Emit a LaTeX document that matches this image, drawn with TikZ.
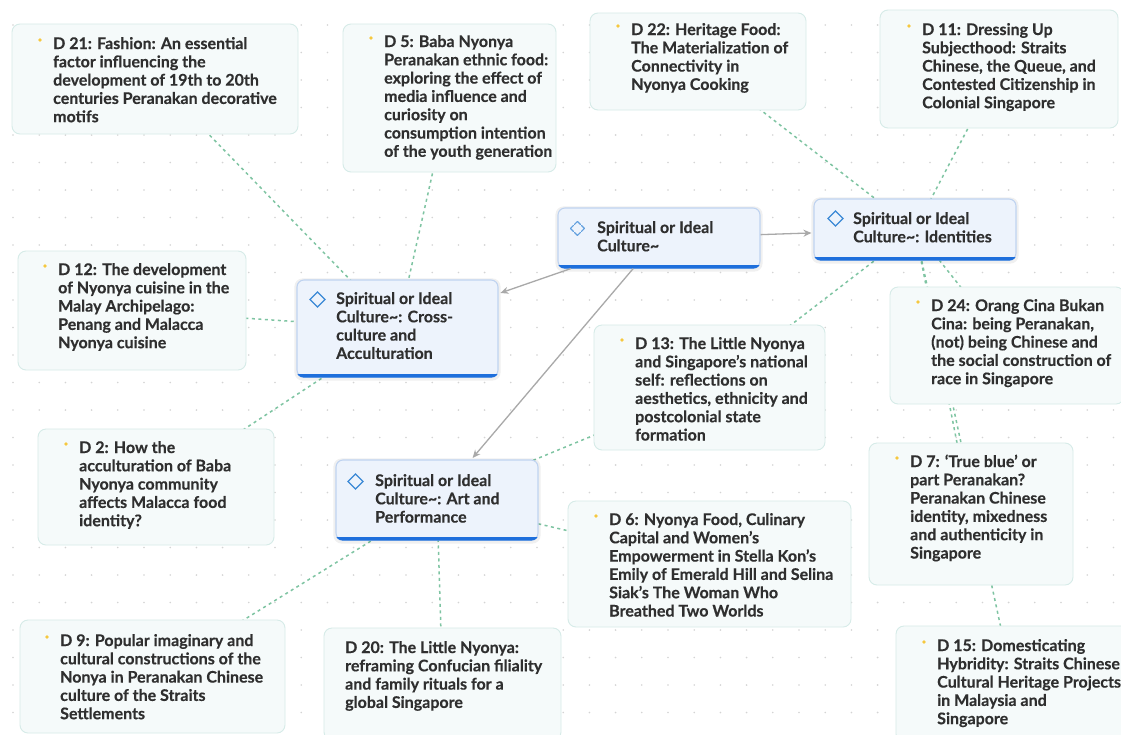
\documentclass[tikz,border=0pt]{standalone}
\usepackage{fontspec}
\setmainfont{Lato}[BoldFeatures={FakeBold=0.35}]
\usetikzlibrary{arrows.meta,backgrounds}

\definecolor{txt}{HTML}{2F2F2F}
\definecolor{docfill}{HTML}{F5FAFA}
\definecolor{docline}{HTML}{D6EBE8}
\definecolor{catfill}{HTML}{EDF3FC}
\definecolor{catline}{HTML}{BFD3F0}
\definecolor{catbar}{HTML}{1E6FDC}
\definecolor{linkc}{HTML}{7EC4A2}
\definecolor{arrowc}{HTML}{A9A9A9}
\definecolor{dotc}{HTML}{D4D4D4}
\definecolor{bulletc}{HTML}{F6C83E}
\definecolor{iconc}{HTML}{3B88D6}

\tikzset{
  docbox/.style={draw=docline, fill=docfill, line width=0.9pt, rounded corners=8pt, inner sep=0pt},
  catbox/.style={draw=catline, fill=catfill, line width=1.1pt, rounded corners=7pt, inner sep=0pt},
  doctext/.style={anchor=base west, align=left, inner sep=0pt, text=txt,
    font=\fontsize{16}{18.3}\selectfont\bfseries},
  linkline/.style={draw=linkc, line width=1.5pt, dash pattern=on 3pt off 3.5pt},
  parentarrow/.style={draw=arrowc, line width=1.3pt, shorten >=2pt, -{Stealth[length=8pt,width=7pt]}},
  bulletdot/.style={fill=bulletc},
  catshadow/.style={fill=black, opacity=0.06, rounded corners=8pt},
  diamondicon/.pic={\draw[iconc, line width=1.2pt] (-7.5,0) -- (0,-7.5) -- (7.5,0) -- (0,7.5) -- cycle;},
  rooticon/.pic={\draw[iconc!80, line width=1.1pt, line cap=round, line join=round]
      (-3,-4) -- (0,-7) -- (3,-4)
      (-4,-3) -- (-7,0) -- (-4,3)
      (4,-3) -- (7,0) -- (4,3)
      (-3,4) -- (0,7) -- (3,4);},
}

\begin{document}
\begin{tikzpicture}[x=1pt, y=-1pt]
\useasboundingbox (0,0) rectangle (1121,734);

% ---------- category nodes ----------
\node[catbox, minimum width=202, minimum height=60] (root) at (659,238) {};
\node[catbox, minimum width=202, minimum height=61] (ident) at (915,229.5) {};
\node[catbox, minimum width=201, minimum height=97] (cross) at (397.5,328.5) {};
\node[catbox, minimum width=202, minimum height=80] (art) at (437,500) {};

\foreach \n in {root,ident,cross,art}{
  \begin{scope}
    \clip[rounded corners=7pt] (\n.south west) rectangle (\n.north east);
    \fill[catbar] ([yshift=-1pt]\n.south west) rectangle ([yshift=4pt]\n.south east);
  \end{scope}
}

\pic at ([shift={(20,21)}]root.north west) {rooticon};
\pic at ([shift={(22,20)}]ident.north west) {diamondicon};
\pic at ([shift={(21,20)}]cross.north west) {diamondicon};
\pic at ([shift={(20,22)}]art.north west) {diamondicon};

% text nodes: anchor = baseline of the LAST line
\node[doctext] (roott) at (597,251.3) {Spiritual or Ideal\\Culture\textasciitilde};
\node[doctext] (identt) at (853,242.3) {Spiritual or Ideal\\Culture\textasciitilde: Identities};
\node[doctext] (crosst) at (336,358.9) {Spiritual or Ideal\\Culture\textasciitilde: Cross-\\culture and\\Acculturation};
\node[doctext] (artt) at (375,522.6) {Spiritual or Ideal\\Culture\textasciitilde: Art and\\Performance};

% ---------- document nodes ----------
\node[docbox, minimum width=286, minimum height=110] (d21) at (155,79) {};
\node[docbox, minimum width=213, minimum height=148] (d5) at (449.5,98) {};
\node[docbox, minimum width=216, minimum height=97] (d22) at (698,61.5) {};
\node[docbox, minimum width=238, minimum height=118] (d11) at (999,69) {};
\node[docbox, minimum width=228, minimum height=119] (d12) at (132,310.5) {};
\node[docbox, minimum width=236, minimum height=116] (d2) at (156,487) {};
\node[docbox, minimum width=231, minimum height=125] (d13) at (709.5,387.5) {};
\node[docbox, minimum width=234, minimum height=117] (d24) at (1007,345.5) {};
\node[docbox, minimum width=204, minimum height=142] (d7) at (971,514) {};
\node[docbox, minimum width=283, minimum height=126] (d6) at (709.5,564) {};
\node[docbox, minimum width=234, minimum height=116] (d15) at (1013,684) {};
\node[docbox, minimum width=265, minimum height=113] (d9) at (152.5,676.5) {};
\node[docbox, minimum width=237, minimum height=112] (d20) at (442.5,684) {};

\node[doctext] (d21t) at (53,122.2) {D 21: Fashion: An essential\\factor influencing the\\development of 19th to 20th\\centuries Peranakan decorative\\motifs};
\node[doctext] (d5t) at (384,156.8) {D 5: Baba Nyonya\\Peranakan ethnic food:\\exploring the effect of\\media influence and\\curiosity on\\consumption intention\\of the youth generation};
\node[doctext] (d22t) at (631,89.9) {D 22: Heritage Food:\\The Materialization of\\Connectivity in\\Nyonya Cooking};
\node[doctext] (d11t) at (922,108.2) {D 11: Dressing Up\\Subjecthood: Straits\\Chinese, the Queue, and\\Contested Citizenship in\\Colonial Singapore};
\node[doctext] (d12t) at (58,348.2) {D 12: The development\\of Nyonya cuisine in the\\Malay Archipelago:\\Penang and Malacca\\Nyonya cuisine};
\node[doctext] (d2t) at (79,526.2) {D 2: How the\\acculturation of Baba\\Nyonya community\\affects Malacca food\\identity?};
\node[doctext] (d13t) at (635,440.5) {D 13: The Little Nyonya\\and Singapore’s national\\self: reflections on\\aesthetics, ethnicity and\\postcolonial state\\formation};
\node[doctext] (d24t) at (931,384.2) {D 24: Orang Cina Bukan\\Cina: being Peranakan,\\(not) being Chinese and\\the social construction of\\race in Singapore};
\node[doctext] (d7t) at (910,558.5) {D 7: ‘True blue’ or\\part Peranakan?\\Peranakan Chinese\\identity, mixedness\\and authenticity in\\Singapore};
\node[doctext] (d6t) at (609,616.5) {D 6: Nyonya Food, Culinary\\Capital and Women’s\\Empowerment in Stella Kon’s\\Emily of Emerald Hill and Selina\\Siak’s The Woman Who\\Breathed Two Worlds};
\node[doctext] (d15t) at (937,724.2) {D 15: Domesticating\\Hybridity: Straits Chinese\\Cultural Heritage Projects\\in Malaysia and\\Singapore};
\node[doctext] (d9t) at (60,719.2) {D 9: Popular imaginary and\\cultural constructions of the\\Nonya in Peranakan Chinese\\culture of the Straits\\Settlements};
\node[doctext] (d20t) at (345,707.9) {D 20: The Little Nyonya:\\reframing Confucian filiality\\and family rituals for a\\global Singapore};

% bullets (beside the first line of each document text)
\foreach \bx/\by in {40/40, 371/38, 618/26, 909/26, 45/266, 66/444, 622/340, 918/302, 897/458, 596/516, 924/642, 47/637}{
  \fill[bulletdot] (\bx,\by) circle (1.8);
}

% ---------- parent arrows ----------
\draw[parentarrow] (root) -- (cross);
\draw[parentarrow] (root) -- (art);
\draw[parentarrow] (root) -- (ident);

% ---------- background: dots, shadows and dashed links ----------
\begin{scope}[on background layer]
  \fill[white] (0,0) rectangle (1121,734);
  \foreach \i in {0,...,42}{
    \foreach \j in {0,...,26}{
      \fill[dotc] (13+26.2*\i, 25+27.5*\j) circle (0.9);
    }
  }
  \draw[linkline] (cross.center) -- (d21.center);
  \draw[linkline] (cross.center) -- (d5.center);
  \draw[linkline] (cross.center) -- (d12.center);
  \draw[linkline] (cross.center) -- (d2.center);
  \draw[linkline] (ident.center) -- (d22.center);
  \draw[linkline] (ident.center) -- (d11.center);
  \draw[linkline] (ident.center) -- (d13.center);
  \draw[linkline] (ident.center) -- (d24.center);
  \draw[linkline] (ident.center) -- (d7.center);
  \draw[linkline] (ident.center) -- (d15.center);
  \draw[linkline] (art.center) -- (d13.center);
  \draw[linkline] (art.center) -- (d6.center);
  \draw[linkline] (art.center) -- (d9.center);
  \draw[linkline] (art.center) -- (d20.center);
  \foreach \n in {root,ident,cross,art}{
    \fill[catshadow] ([shift={(-2,-1)}]\n.north west) rectangle ([shift={(2,3)}]\n.south east);
  }
\end{scope}
\end{tikzpicture}
\end{document}
